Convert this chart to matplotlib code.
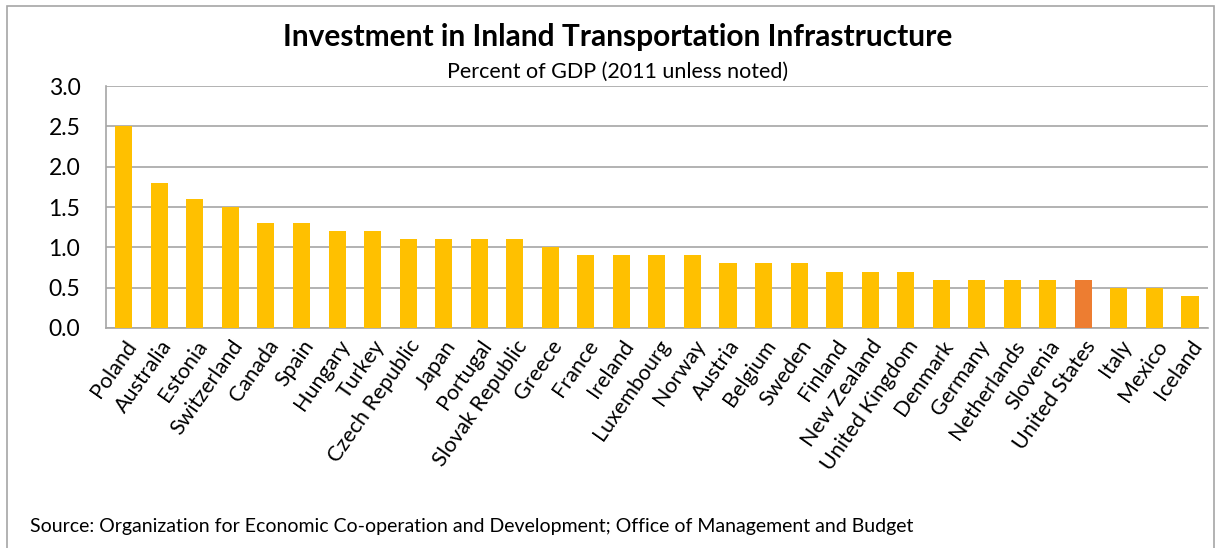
import matplotlib
matplotlib.use("Agg")
from matplotlib import pyplot as plt
from matplotlib.patches import Rectangle

countries = ["Poland", "Australia", "Estonia", "Switzerland", "Canada", "Spain",
             "Hungary", "Turkey", "Czech Republic", "Japan", "Portugal",
             "Slovak Republic", "Greece", "France", "Ireland", "Luxembourg",
             "Norway", "Austria", "Belgium", "Sweden", "Finland", "New Zealand",
             "United Kingdom", "Denmark", "Germany", "Netherlands", "Slovenia",
             "United States", "Italy", "Mexico", "Iceland"]
values = [2.5, 1.8, 1.6, 1.5, 1.3, 1.3, 1.2, 1.2, 1.1, 1.1, 1.1, 1.1, 1.0,
          0.9, 0.9, 0.9, 0.9, 0.8, 0.8, 0.8, 0.7, 0.7, 0.7, 0.6, 0.6, 0.6,
          0.6, 0.6, 0.5, 0.5, 0.4]
highlight = "United States"
y_ticks = [0.0, 0.5, 1.0, 1.5, 2.0, 2.5, 3.0]

plt.rcParams['font.family'] = ['Lato', 'DejaVu Sans']

fig = plt.figure(figsize=(12.2, 5.48), dpi=100)
ax = fig.add_axes([0.0869, 0.4015, 0.9031, 0.4415])

colors = ['#ED7D31' if c == highlight else '#FFC000' for c in countries]
ax.bar(range(len(countries)), values, width=0.48, color=colors, zorder=3)

ax.set_xlim(-0.5, len(countries) - 0.5)
ax.set_ylim(0, 3.0)
ax.set_yticks(y_ticks)
ax.set_yticklabels([f"{v:.1f}" for v in y_ticks], fontsize=16.5)
ax.set_xticks(range(len(countries)))
ax.set_xticklabels(countries, rotation=55, ha='right', rotation_mode='anchor',
                   fontsize=15.5)
ax.tick_params(axis='both', length=0)
ax.tick_params(axis='y', pad=18.5)
ax.tick_params(axis='x', pad=6)

ax.grid(axis='y', color='#A6A6A6', linewidth=1.2, zorder=0)
for side in ['top', 'right']:
    ax.spines[side].set_visible(False)
for side in ['left', 'bottom']:
    ax.spines[side].set_color('#A6A6A6')
    ax.spines[side].set_linewidth(1.2)

fig.text(0.506, 0.932, "Investment in Inland Transportation Infrastructure",
         ha='center', va='center', fontsize=21.5, fontweight='bold')
fig.text(0.506, 0.868, "Percent of GDP (2011 unless noted)",
         ha='center', va='center', fontsize=15.5)
fig.text(0.0246, 0.04, "Source: Organization for Economic Co-operation and Development; "
         "Office of Management and Budget", ha='left', va='center', fontsize=14)

# outer chart frame
fig.patches.append(Rectangle((0.006, -0.01), 0.989, 0.999, transform=fig.transFigure,
                             fill=False, edgecolor='#A6A6A6', linewidth=1.2))

fig.savefig("out.png", dpi=100)
